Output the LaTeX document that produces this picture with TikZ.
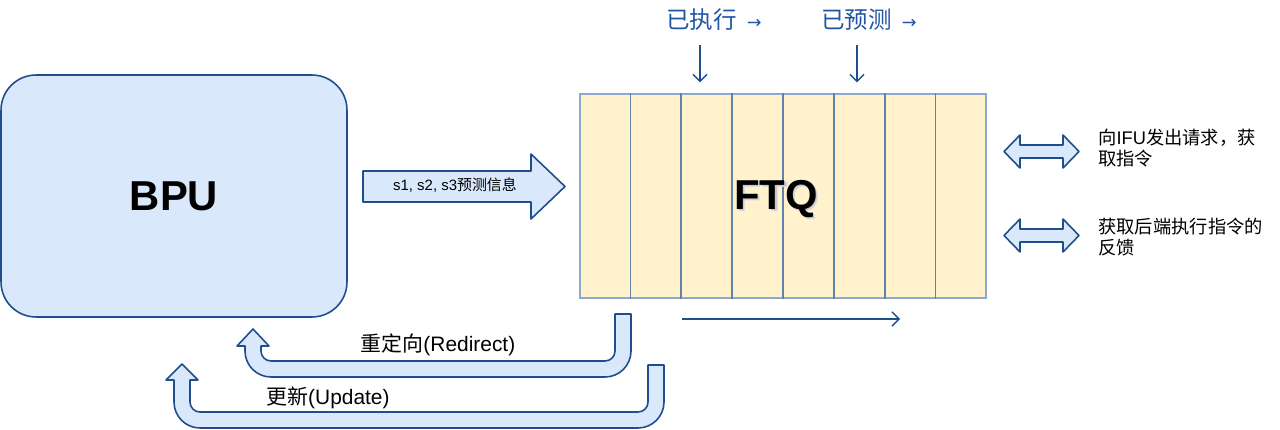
\documentclass[tikz,border=0pt]{standalone}
\usepackage{fontspec}
\setmainfont{Liberation Sans}
\newfontfamily\cjk{Noto Sans CJK SC}
\newfontfamily\symfont{DejaVu Sans}
\usepackage{tikz}
\usetikzlibrary{arrows.meta,calc,positioning}
\definecolor{bpufill}{HTML}{DAE8FC}
\definecolor{bpuline}{HTML}{1F4E8C}
\definecolor{ftqfill}{HTML}{FFF2CC}
\definecolor{ftqline}{HTML}{8DA9CB}
\definecolor{cellline}{HTML}{5F83AE}
\definecolor{labelblue}{HTML}{1F56A3}
\tikzset{%
	bpubox/.style     = {draw=bpuline, fill=bpufill, line width=0.9pt, rounded corners=0.7cm, minimum width=6.92cm, minimum height=4.84cm},
	ftqbox/.style     = {draw=ftqline, fill=ftqfill, line width=0.8pt, minimum width=8.12cm, minimum height=4.08cm},
	bigtext/.style    = {font=\fontsize{23.8}{28}\selectfont\bfseries},
	blockarrow/.style = {draw=bpuline, fill=bpufill, line width=0.9pt, line join=round},
	thinarrow/.style  = {draw=bpuline, line width=0.8pt, -{Straight Barb[length=4pt,width=8pt]}},
	toplabel/.style   = {text=labelblue, font=\fontsize{13.4}{16}\selectfont\cjk},
	sidelabel/.style  = {anchor=west, align=left, inner sep=0pt, font=\fontsize{10.4}{12}\selectfont\cjk},
	loopfont/.style   = {font=\fontsize{11.9}{14}\selectfont},
}

\begin{document}
\begin{tikzpicture}[x=0.02cm,y=-0.02cm]
	\useasboundingbox (0,0) rectangle (1280,429);
	\node[bpubox] (bpu) at (174,196) {};
	\node[bigtext] (bputext) at (bpu.center) {BPU};
	\node[ftqbox] (ftq) at (783,196) {};
	\foreach \i in {1,...,7}
		\draw[cellline, line width=0.8pt] ($(ftq.north west)!\i/8!(ftq.north east)$) -- ($(ftq.south west)!\i/8!(ftq.south east)$);
	\node[bigtext, text=black!14] at (778.5,201.5) {FTQ};
	\node[bigtext, text=black!22] at (777.5,200.5) {FTQ};
	\node[bigtext] (ftqtext) at (776,199) {FTQ};
	\draw[blockarrow] (363,171) -- (531,171) -- (531,154) -- (565,186.5) -- (531,219) -- (531,202) -- (363,202) -- cycle;
	\node[font=\fontsize{8.5}{10}\selectfont] (info) at (455,185) {s1, s2, s3{\cjk 预测信息}};
	\node[toplabel] (exec) at (714,19.5) {已执行\hspace{0.2cm}{\symfont\fontsize{10}{10}\selectfont →}};
	\node[toplabel] (pred) at (869,19.5) {已预测\hspace{0.2cm}{\symfont\fontsize{10}{10}\selectfont →}};
	\coordinate (d1) at (700,45);
	\coordinate (d2) at (857,45);
	\draw[thinarrow, shorten >=0.22cm] (d1) -- (d1 |- ftq.north);
	\draw[thinarrow, shorten >=0.22cm] (d2) -- (d2 |- ftq.north);
	\coordinate (m1) at (682,319);
	\coordinate (m2) at (900,319);
	\draw[thinarrow] (m1) -- (m2);
	\foreach \y in {151.5,235.5}
		\draw[blockarrow] (1004,\y) -- ++(16,-16.5) -- ++(0,10) -- ++(43,0) -- ++(0,-10) -- ++(16,16.5) -- ++(-16,16.5) -- ++(0,-10) -- ++(-43,0) -- ++(0,10) -- cycle;
	\node[sidelabel] (ifu) at (1098,148.5) {向{\rmfamily IFU}发出请求，获\\取指令};
	\node[sidelabel] (back) at (1098,237.5) {获取后端执行指令的\\反馈};
	\draw[blockarrow] (615,314) -- (631,314) -- (631,351) arc[start angle=0,end angle=90,radius=26] -- (271,377) arc[start angle=90,end angle=180,radius=26] -- (245,346) -- (237,346) -- (253,329) -- (269,346) -- (261,346) -- (261,351) arc[start angle=180,end angle=90,radius=10] -- (605,361) arc[start angle=90,end angle=0,radius=10] -- cycle;
	\node[loopfont] (redirect) at (438,345) {{\cjk 重定向}(Redirect)};
	\draw[blockarrow] (648,365) -- (664,365) -- (664,402) arc[start angle=0,end angle=90,radius=26] -- (200,428) arc[start angle=90,end angle=180,radius=26] -- (174,380) -- (166,380) -- (182,364) -- (198,380) -- (190,380) -- (190,402) arc[start angle=180,end angle=90,radius=10] -- (638,412) arc[start angle=90,end angle=0,radius=10] -- cycle;
	\node[loopfont] (update) at (328,398) {{\cjk 更新}(Update)};
\end{tikzpicture}
\end{document}
